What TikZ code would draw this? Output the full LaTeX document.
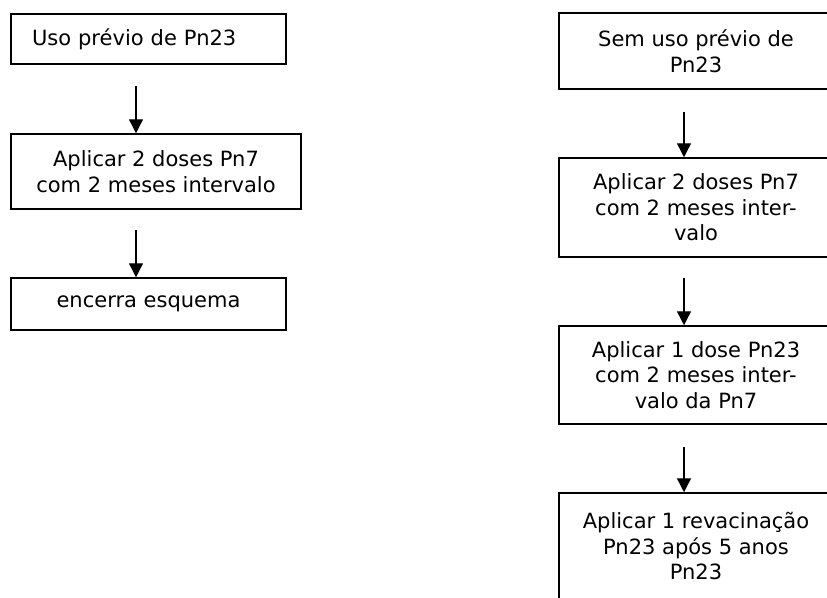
\documentclass[tikz,border=0pt]{standalone}
\usepackage{fontspec}
\setmainfont{DejaVu Sans}
\usetikzlibrary{arrows.meta}
\begin{document}
\begin{tikzpicture}[x=1pt,y=-1pt,
  box/.style={draw=black,line width=1.5pt,inner sep=0pt,align=center,
    font=\fontsize{21}{25.5}\selectfont},
  conn/.style={line width=1.4pt,-{Triangle[length=14pt,width=14pt]}}]
\useasboundingbox (0,0) rectangle (827,597);
\clip (0,0) rectangle (827,597);
% left column
\node[box,minimum width=275pt,minimum height=50pt,text width=275pt,align=left] (l1) at (148.5,39) {\hspace*{21pt}Uso prévio de Pn23};
\node[box,minimum width=290pt,minimum height=75pt] (l2) at (156,171.5) {Aplicar 2 doses Pn7\\com 2 meses intervalo};
\node[box,minimum width=275pt,minimum height=52pt] (l3) at (148.5,304) {encerra esquema};
\coordinate (a1) at (136,86);
\coordinate (a2) at (136,230);
\draw[conn] (a1) -- (a1 |- l2.north);
\draw[conn] (a2) -- (a2 |- l3.north);
% right column
\node[box,minimum width=274pt,minimum height=76pt] (r1) at (696,51) {Sem uso prévio de\\Pn23};
\node[box,minimum width=274pt,minimum height=99pt] (r2) at (696,207.5) {Aplicar 2 doses Pn7\\com 2 meses inter-\\valo};
\node[box,minimum width=274pt,minimum height=98pt] (r3) at (696,375) {Aplicar 1 dose Pn23\\com 2 meses inter-\\valo da Pn7};
\node[box,minimum width=274pt,minimum height=106pt] (r4) at (696,546) {Aplicar 1 revacinação\\Pn23 após 5 anos\\Pn23};
\coordinate (b1) at (684,112);
\coordinate (b2) at (684,278);
\coordinate (b3) at (684,447);
\draw[conn] (b1) -- (b1 |- r2.north);
\draw[conn] (b2) -- (b2 |- r3.north);
\draw[conn] (b3) -- (b3 |- r4.north);
\end{tikzpicture}
\end{document}
